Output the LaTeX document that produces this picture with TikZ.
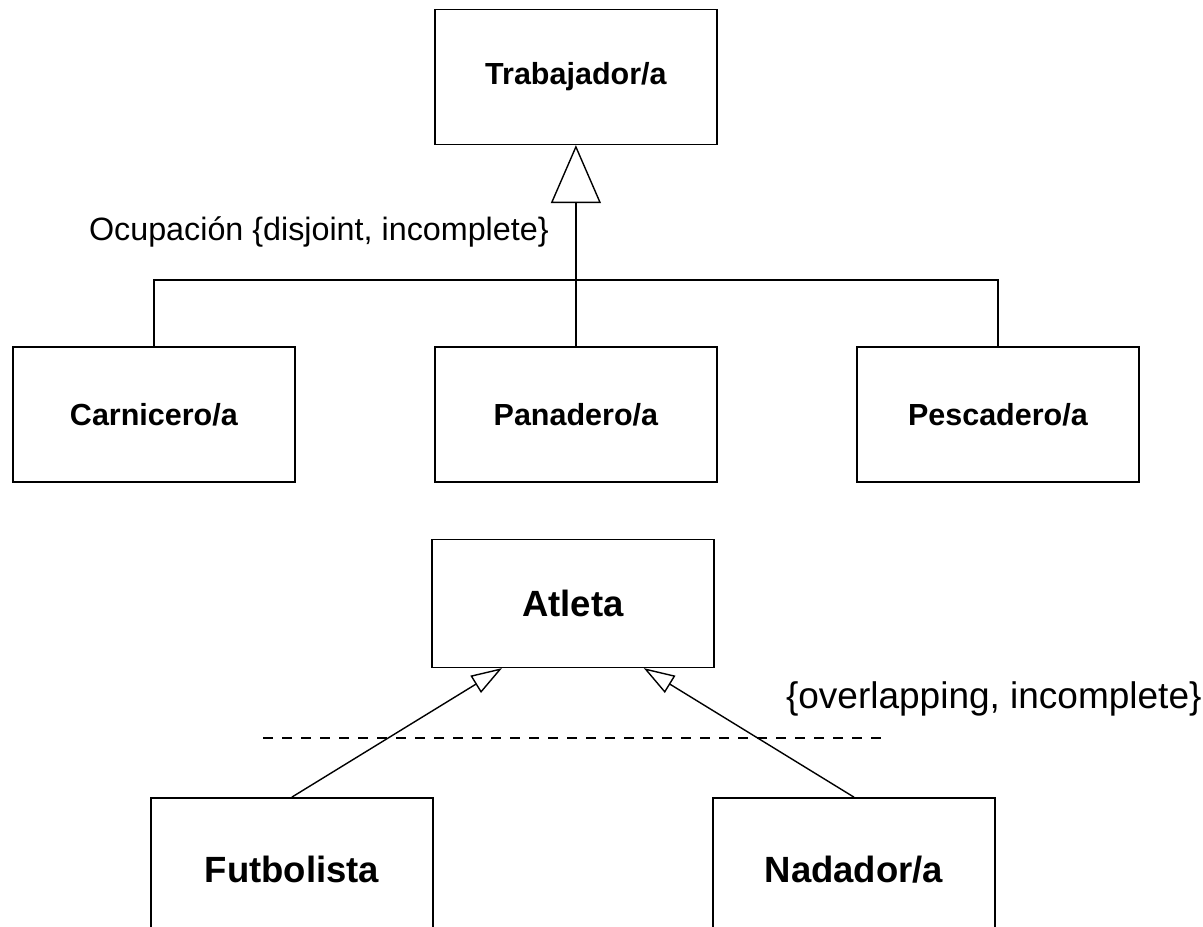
\documentclass[tikz,border=0pt]{standalone}
\usepackage{fontspec}
\setmainfont{Liberation Sans}
\usepackage{tikz}
\usetikzlibrary{matrix,arrows,backgrounds}
\usetikzlibrary{arrows.meta}
\usetikzlibrary{calc}

\begin{document}
\begin{tikzpicture}[x=1pt, y=-1pt, line width=1.4pt,
	clase/.style={draw, anchor=center, minimum width=282pt, minimum height=135pt, font=\bfseries\fontsize{30.5}{36}\selectfont},
	gen/.style={-{Triangle[open, length=58pt, width=50pt]}},
	genS/.style={-{Triangle[open, length=31pt, width=20pt]}},
	trazos/.style={dash pattern=on 10pt off 9pt, line width=2.6pt}]
\useasboundingbox (0,0) rectangle (1203,927);
\clip (0,0) rectangle (1203,927);
\matrix (occ) [matrix of nodes, row sep=201pt, column sep=138.6pt, nodes={clase}, inner sep=0pt, anchor=north west] at (11.5,8)
{
	& Trabajador/a & \\
	Carnicero/a & Panadero/a & Pescadero/a \\
};
\matrix (atl) [matrix of nodes, row sep=129pt, column sep=-2.4pt, nodes={clase, font=\bfseries\fontsize{36.5}{44}\selectfont}, inner sep=0pt, anchor=north west] at (149.5,538)
{
	& |[minimum height=128pt]| Atleta & \\
	|[minimum height=144pt]| Futbolista & & |[minimum height=144pt]| Nadador/a \\
};
\coordinate (bar) at (576,280);
\draw (occ-2-1.north) |- (bar) -| (occ-2-3.north);
\path[gen] (occ-2-2) edge (occ-1-2);
\node (occlbl) [anchor=base west, font=\fontsize{32.3}{38}\selectfont] at (85,240) {Ocupación \{disjoint, incomplete\}};
\coordinate (tipL) at ($(atl-1-2.south west)!0.25!(atl-1-2.south east)$);
\coordinate (tipR) at ($(atl-1-2.south west)!0.75!(atl-1-2.south east)$);
\path[genS] (atl-2-1.north) edge (tipL)
		(atl-2-3.north) edge (tipR);
\coordinate (sepL) at (263,738);
\coordinate (sepR) at (885,738);
\draw[trazos] (sepL) -- (sepR);
\node (atllbl) [anchor=base west, font=\fontsize{37}{44}\selectfont] at (782,708) {\{overlapping, incomplete\}};
\end{tikzpicture}
\end{document}
